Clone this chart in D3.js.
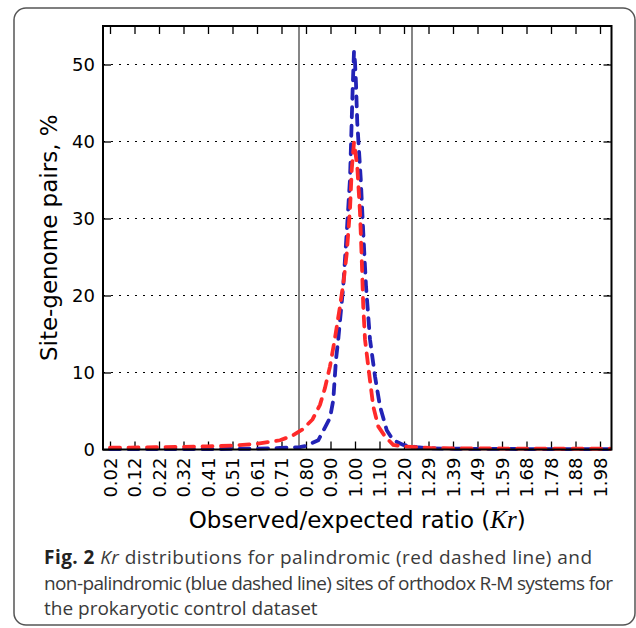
<!DOCTYPE html>
<html>
<head>
<meta charset="utf-8">
<title>Kr distributions</title>
<script src="https://d3js.org/d3.v7.min.js"></script>
<style>
body { margin: 0; background: #fff; }
svg { display: block; }
.tick-lab { font-family: "DejaVu Sans", sans-serif; font-size: 18px; fill: #000; }
.ax-title { font-family: "DejaVu Sans", sans-serif; font-size: 23px; fill: #000; }
.caption { font-family: "Open Sans", "Noto Sans", sans-serif; font-size: 19px; fill: #3a3a3a; }
</style>
</head>
<body>
<script>
// x tick labels (ticks are evenly spaced from 0.02 to 1.98)
var xTickLabels = ["0.02","0.12","0.22","0.32","0.41","0.51","0.61","0.71","0.80","0.90",
  "1.00","1.10","1.20","1.29","1.39","1.49","1.59","1.68","1.78","1.88","1.98"];
var yTicks = [0, 10, 20, 30, 40, 50];
var cutoffs = [0.776, 1.228];

// palindromic sites (red)
var palX = [0.02, 0.10, 0.20, 0.31, 0.41, 0.51, 0.61, 0.70, 0.75, 0.79, 0.83, 0.86, 0.88, 0.90, 0.92,
  0.94, 0.955, 0.967, 0.98, 0.987, 0.996, 1.009, 1.02, 1.027, 1.033, 1.04, 1.053, 1.073, 1.093, 1.12,
  1.153, 1.193, 1.25, 1.30, 1.40, 1.50, 1.60, 1.70, 1.80, 1.90, 2.02];
var palY = [0.25, 0.25, 0.3, 0.35, 0.4, 0.5, 0.75, 1.2, 1.8, 2.6, 3.9, 5.8, 8.0, 10.8, 14.5,
  18.6, 22, 25.5, 31.2, 36.4, 39.9, 36.8, 30.8, 24.7, 18.6, 14.3, 10.8, 5.6, 3.0, 1.7,
  0.6, 0.4, 0.3, 0.2, 0.15, 0.15, 0.12, 0.12, 0.1, 0.1, 0.1];

// non-palindromic sites (blue)
var nonX = [0.02, 0.20, 0.40, 0.60, 0.70, 0.78, 0.80, 0.853, 0.90, 0.913, 0.924, 0.933, 0.953, 0.967,
  0.98, 0.987, 0.991, 0.996, 1.0, 1.004, 1.009, 1.023, 1.033, 1.044, 1.06, 1.08, 1.10, 1.127, 1.153,
  1.193, 1.247, 1.30, 1.40, 1.50, 1.60, 1.70, 1.80, 1.90, 2.02];
var nonY = [0.05, 0.05, 0.05, 0.1, 0.2, 0.3, 0.45, 1.2, 4.1, 6.4, 11.7, 14.3, 21.2, 28.2,
  35.1, 42.9, 47.2, 51.7, 50.3, 47.5, 42.5, 35.1, 28.2, 21.2, 14.3, 9.5, 5.6, 2.5, 1.2,
  0.6, 0.3, 0.15, 0.1, 0.08, 0.08, 0.05, 0.05, 0.05, 0.05];

var W = 636, H = 628;
var svg = d3.select("body").append("svg").attr("width", W).attr("height", H);

// outer figure box
svg.append("rect")
  .attr("x", 14).attr("y", 8).attr("width", 621).attr("height", 617)
  .attr("rx", 12)
  .attr("fill", "none").attr("stroke", "#555").attr("stroke-width", 1.5);

var pLeft = 103, pRight = 611.5, pTop = 26, pBottom = 449.5;
var x = d3.scaleLinear().domain([-0.008, 2.026]).range([pLeft, pRight]);
var y = d3.scaleLinear().domain([0, 55]).range([pBottom, pTop]);
var xTickVals = xTickLabels.map(function(d, i) { return 0.02 + i * 1.96 / 20; });

// dotted grid
svg.append("g").selectAll("line")
  .data(yTicks.filter(function(d) { return d > 0; }))
  .enter().append("line")
  .attr("x1", pLeft).attr("x2", pRight)
  .attr("y1", function(d) { return y(d); }).attr("y2", function(d) { return y(d); })
  .attr("stroke", "#000").attr("stroke-width", 1).attr("stroke-dasharray", "2,6");

// cutoff lines
svg.append("g").selectAll("line")
  .data(cutoffs).enter().append("line")
  .attr("x1", function(d) { return x(d); }).attr("x2", function(d) { return x(d); })
  .attr("y1", pTop).attr("y2", pBottom)
  .attr("stroke", "#444").attr("stroke-width", 1.3);

// axes: ticks point inward on all four sides
var tl = 8;
var xb = d3.axisBottom(x).tickValues(xTickVals).tickSize(-tl).tickFormat(function(d, i) { return xTickLabels[i]; });
var xt = d3.axisTop(x).tickValues(xTickVals).tickSize(-tl).tickFormat("");
var yl = d3.axisLeft(y).tickValues(yTicks).tickSize(-tl).tickPadding(8);
var yr = d3.axisRight(y).tickValues(yTicks).tickSize(-tl).tickFormat("");

var gxb = svg.append("g").attr("transform", "translate(0," + pBottom + ")").call(xb);
svg.append("g").attr("transform", "translate(0," + pTop + ")").call(xt);
var gyl = svg.append("g").attr("transform", "translate(" + pLeft + ",0)").call(yl);
svg.append("g").attr("transform", "translate(" + pRight + ",0)").call(yr);

svg.selectAll(".domain").remove();
svg.selectAll(".tick line").attr("stroke", "#000").attr("stroke-width", 1.3);

gxb.selectAll(".tick text")
  .attr("class", "tick-lab")
  .attr("transform", "rotate(-90)")
  .attr("x", -8).attr("y", 0).attr("dy", "0.35em")
  .style("text-anchor", "end");
gyl.selectAll(".tick text").attr("class", "tick-lab");

// series
var line = d3.line()
  .x(function(d) { return x(d[0]); })
  .y(function(d) { return y(d[1]); });

var series = [
  { xs: nonX, ys: nonY, color: "#2323b6" },
  { xs: palX, ys: palY, color: "#ff2a2a" }
];
series.forEach(function(s) {
  svg.append("path")
    .datum(d3.zip(s.xs, s.ys))
    .attr("d", line)
    .attr("fill", "none")
    .attr("stroke", s.color)
    .attr("stroke-width", 3.8)
    .attr("stroke-dasharray", "10,8.5")
    .attr("stroke-linecap", "round");
});

// plot frame
svg.append("rect")
  .attr("x", pLeft).attr("y", pTop).attr("width", pRight - pLeft).attr("height", pBottom - pTop)
  .attr("fill", "none").attr("stroke", "#000").attr("stroke-width", 2);

// axis titles
var xt2 = svg.append("text").attr("class", "ax-title")
  .attr("x", (pLeft + pRight) / 2).attr("y", 528).attr("text-anchor", "middle");
xt2.append("tspan").text("Observed/expected ratio (");
xt2.append("tspan").style("font-family", "'Liberation Serif', serif").style("font-style", "italic")
  .style("font-size", "25px").text("Kr");
xt2.append("tspan").text(")");

svg.append("text").attr("class", "ax-title")
  .attr("transform", "translate(57," + ((pTop + pBottom) / 2) + ") rotate(-90)")
  .attr("text-anchor", "middle")
  .text("Site-genome pairs, %");

// caption
var cap = [
  [["Fig. 2 ", "b"], ["Kr", "i"], [" distributions for palindromic (red dashed line) and", ""]],
  [["non-palindromic (blue dashed line) sites of orthodox R-M systems for", ""]],
  [["the prokaryotic control dataset", ""]]
];
var capW = [548, 569, 0];
cap.forEach(function(parts, i) {
  var t = svg.append("text").attr("class", "caption")
    .attr("x", 44).attr("y", 564 + i * 25.5);
  parts.forEach(function(p) {
    var s = t.append("tspan").text(p[0]);
    if (p[1] === "b") s.style("font-weight", "bold").style("fill", "#222");
    if (p[1] === "i") s.style("font-style", "italic");
  });
  if (capW[i]) t.attr("textLength", capW[i]).attr("lengthAdjust", "spacing");
});
</script>
</body>
</html>
